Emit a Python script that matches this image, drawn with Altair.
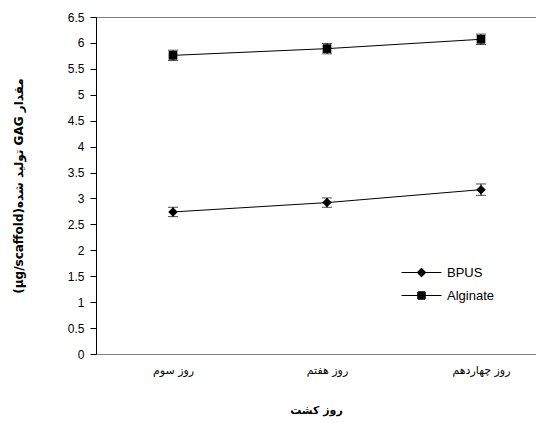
import altair as alt
import pandas as pd

days = ["روز سوم", "روز هفتم", "روز چهاردهم"]
series_names = ["BPUS", "Alginate"]
bpus = [2.74, 2.92, 3.17]
bpus_err = [0.09, 0.09, 0.11]
alginate = [5.76, 5.89, 6.07]
alginate_err = [0.10, 0.10, 0.10]
y_ticks = [0, 0.5, 1, 1.5, 2, 2.5, 3, 3.5, 4, 4.5, 5, 5.5, 6, 6.5]

rows = []
for s, vals, errs in [("BPUS", bpus, bpus_err), ("Alginate", alginate, alginate_err)]:
    for i, d in enumerate(days):
        rows.append({"day": d, "series": s, "value": vals[i],
                     "lo": vals[i] - errs[i], "hi": vals[i] + errs[i], "order": i})
df = pd.DataFrame(rows)

FONT = "Liberation Sans, DejaVu Sans, Arial, sans-serif"
AR_FONT = "DejaVu Sans, Liberation Sans, sans-serif"

W, H = 440, 337

xscale = alt.Scale(type="point", domain=days, padding=0.4286, align=0.5833)
x_axis = alt.Axis(title="روز کشت", ticks=False, domainColor="#808080", labelAngle=0,
                  labelFont=AR_FONT, labelFontSize=11, labelPadding=10,
                  titleFont=AR_FONT, titleFontSize=11, titleFontWeight="bold",
                  titlePadding=29, labelColor="black", titleColor="black")
x_top = alt.Axis(orient="top", title=None, ticks=False, labels=False, domainColor="#808080")

yscale = alt.Scale(domain=[0, 6.5], nice=False, zero=True)
y_axis = alt.Axis(title="(µg/scaffold)تولید شده GAG  مقدار",
                  values=y_ticks, format="~g",
                  grid=False, tickSize=6, tickColor="black", domainColor="black",
                  labelFont=FONT, labelFontSize=12, labelPadding=6,
                  labelColor="black", titleFont=AR_FONT, titleFontSize=12,
                  titleFontWeight="bold", titlePadding=42, titleColor="black")

base = alt.Chart(df)

lines = base.mark_line(color="black", strokeWidth=1).encode(
    x=alt.X("day:N", sort=days, scale=xscale, axis=x_axis),
    y=alt.Y("value:Q", scale=yscale, axis=y_axis),
    detail="series:N", order="order:Q")

errs = base.mark_errorbar(ticks=alt.MarkConfig(size=10, color="black"), color="black",
                          thickness=1).encode(
    x=alt.X("day:N", sort=days, scale=xscale, axis=None),
    y=alt.Y("lo:Q", scale=yscale, axis=y_axis), y2="hi:Q")

pts = base.mark_point(filled=True, color="black", opacity=1).encode(
    x=alt.X("day:N", sort=days, scale=xscale, axis=None),
    y=alt.Y("value:Q", scale=yscale, axis=y_axis),
    shape=alt.Shape("series:N", scale=alt.Scale(domain=series_names, range=["diamond", "square"]),
                    legend=None),
    size=alt.Size("series:N", scale=alt.Scale(domain=series_names, range=[90, 75]), legend=None))

# legend symbols: a line segment plus a marker drawn as concentric outlines (reads as filled)
diamond_rings = "".join(
    f"M0,-{r}L{r},0L0,{r}L-{r},0Z" for r in ["0.44", "0.39", "0.34", "0.29", "0.24", "0.19", "0.14", "0.09", "0.04"])
square_rings = "".join(
    f"M-{r},-{r}H{r}V{r}H-{r}Z" for r in ["0.37", "0.32", "0.27", "0.22", "0.17", "0.12", "0.07", "0.02"])
leg_paths = ["M-2,0H2" + diamond_rings, "M-2,0H2" + square_rings]

legend_layer = base.mark_point(filled=False, color="black", opacity=0).encode(
    x=alt.X("day:N", sort=days, scale=xscale, axis=x_top),
    y=alt.Y("value:Q", scale=yscale, axis=y_axis),
    shape=alt.Shape("series2:N", scale=alt.Scale(domain=series_names, range=leg_paths),
                    legend=alt.Legend(title=None, orient="none", legendX=315, legendY=245,
                                      labelFont=FONT, labelFontSize=13,
                                      labelColor="black", rowPadding=5, symbolSize=400,
                                      symbolOpacity=1, symbolStrokeWidth=1,
                                      symbolStrokeColor="black",
                                      labelOffset=15)),
).transform_calculate(series2="datum.series")

chart = alt.layer(lines, errs, pts, legend_layer).resolve_scale(
    shape="independent").resolve_axis(x="independent").resolve_legend(shape="independent").properties(
    width=W, height=H,
    autosize=alt.AutoSizeParams(type="none"),
    padding={"left": 88, "top": 9, "right": 0, "bottom": 63},
).configure_view(stroke=None).configure_axisY(domainColor="black", tickColor="black",
                                              domainWidth=1, tickWidth=1
).configure(background="white")

chart.save("out.html", embed_options={"renderer": "svg", "actions": False})
